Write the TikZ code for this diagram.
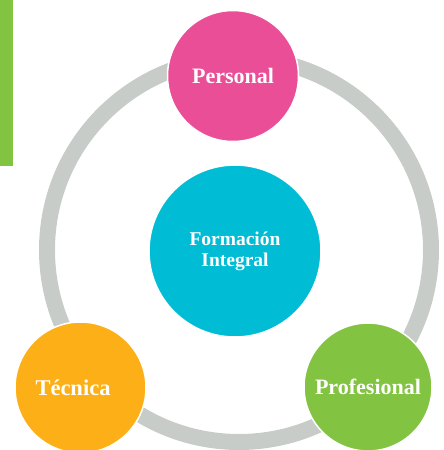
\documentclass[tikz,border=0pt]{standalone}
\usepackage{fontspec}
\setmainfont{Liberation Serif}
\definecolor{ringgray}{HTML}{C8CCC8}
\definecolor{cpink}{HTML}{EA4E96}
\definecolor{ccyan}{HTML}{00BDD5}
\definecolor{corange}{HTML}{FCAF17}
\definecolor{cgreen}{HTML}{82C341}
\begin{document}
\begin{tikzpicture}[x=1pt,y=-1pt,
  bubble/.style={circle,draw=white,line width=1.5pt,text=white,inner sep=0pt,align=center,font=\bfseries\fontsize{22}{24}\selectfont},
  ring/.style={draw=ringgray,line width=16pt}]
\useasboundingbox (0,0) rectangle (444,450);
\clip (0,0) rectangle (444,450);
\fill[cgreen] (0,0) rectangle (13,166);
\coordinate (ringc) at (239,250);
\draw[ring] (ringc) circle[radius=192];
\node[bubble,fill=ccyan,minimum size=172pt,font=\bfseries\fontsize{19.5}{21}\selectfont] (centro) at (235,251) {Formación\\Integral};
\node[bubble,fill=cpink,minimum size=131pt] (personal) at (233,76) {Personal};
\node[bubble,fill=corange,minimum size=131pt] (tecnica) at (80.5,387.5) {};
\node[text=white,font=\bfseries\fontsize{22.5}{24}\selectfont] (tecnicat) at (73,388) {Técnica};
\node[bubble,fill=cgreen,minimum size=128pt] (profesional) at (368,387) {Profesional};
\end{tikzpicture}
\end{document}
